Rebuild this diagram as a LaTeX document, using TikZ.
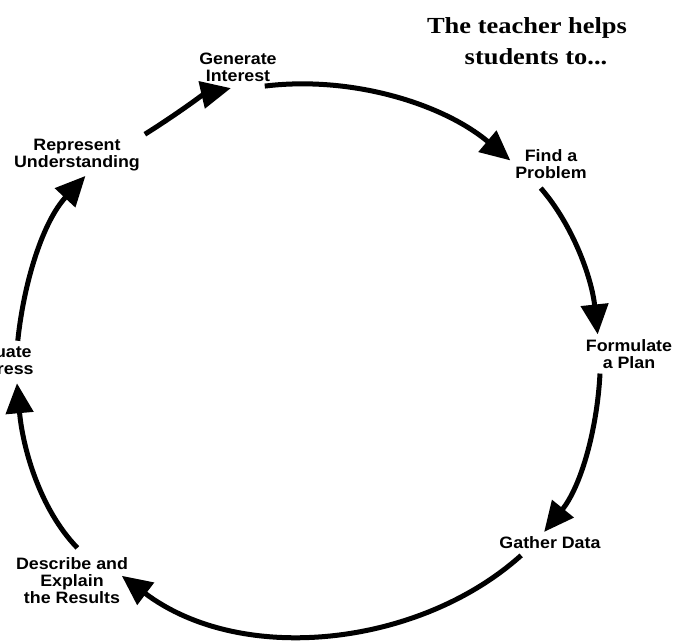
\documentclass[tikz,border=0pt]{standalone}
\usepackage{fontspec}
\newfontfamily\stagefont[FakeStretch=1.08]{Liberation Sans}
\newfontfamily\titlefont[FakeStretch=1.15]{Liberation Serif}
\usetikzlibrary{arrows.meta}

\begin{document}
\begin{tikzpicture}[x=1pt,y=1pt,
  stage/.style={align=center,inner sep=3pt,outer sep=2pt,font=\stagefont\bfseries\fontsize{16.5}{17}\selectfont},
  cyc/.style={line width=5pt,-{Triangle[length=30pt,width=27pt]}}]
\useasboundingbox (0,0) rectangle (675,641);
\clip (0,0) rectangle (675,641);
\node [anchor=north,inner sep=0pt,align=center,font=\titlefont\bfseries\fontsize{23}{31}\selectfont] (title) at (527,624) {The teacher helps\\\hspace*{18pt}students to...};
  \foreach \nm/\x/\y/\txt in {gi/238/574/{Generate\\Interest},fp/551/477/{Find a\\Problem},
    fm/629/287/{Formulate\\a Plan},gd/550/98/{Gather Data},de/72/60/{Describe and\\Explain\\the Results},
    ep/-5/279/{Evaluate\\Progress},ru/77/486/{Represent\\Understanding}}
  {  \node [stage] (\nm) at (\x,\y) {\txt};}
  % from/to/out/in/looseness/shorten at start/shorten at tip
  \foreach \a/\b/\o/\i/\l/\s/\t in {gi.-38/fp.175/7/140/0.88/2/0,fp.-126/fm.148/-49/96/0.88/6/0,
    fm.-146/gd.118/-93/51/0.88/0/0,gd.-158/de.-3/-138/-37/0.9/2/-14,de.70/ep.-44/134/-85/0.88/7/0,
    ep.43/ru.-68/84/-133/0.88/0/0,ru.17/gi.-88/32/-167/0.88/0/8}
  {  \draw [cyc,shorten <=\s pt,shorten >=\t pt] (\a) to[out=\o,in=\i,looseness=\l] (\b);}
\end{tikzpicture}
\end{document}
